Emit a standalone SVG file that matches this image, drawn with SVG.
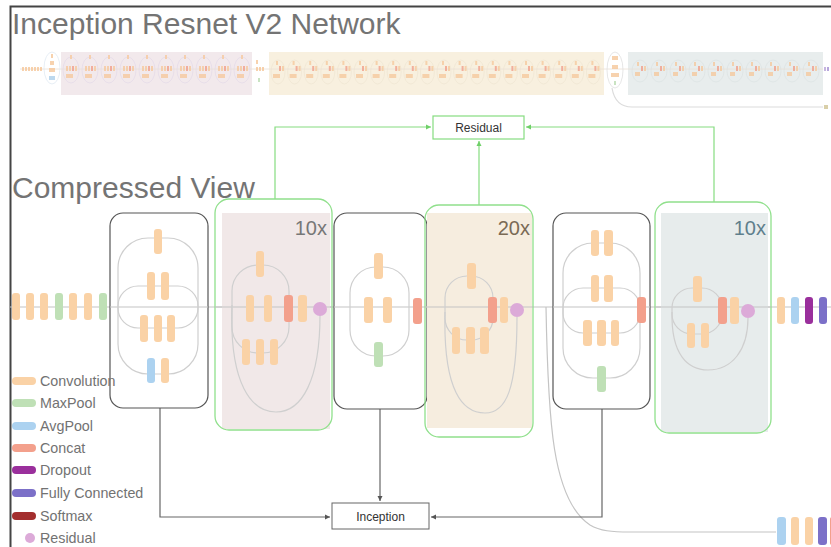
<svg xmlns="http://www.w3.org/2000/svg" width="831" height="547" viewBox="0 0 831 547">
<style>
.t{font-family:"Liberation Sans",Arial,sans-serif;}
.title{font-size:30px;fill:#747474;}
.leg{font-size:14.3px;fill:#727272;}
.rep{font-size:20px;}
.cv{fill:#fad2a6;}
.mp{fill:#bfe0b6;}
.ap{fill:#acd2f0;}
.cc{fill:#f3a08c;}
.dp{fill:#9a2f9c;}
.fc{fill:#7c70c8;}
.sm{fill:#a32e2e;}
.rs{fill:#dcaad8;}
.loop{fill:none;stroke:#cfcfcf;stroke-width:1.2;}
.blk{fill:#fff;stroke:#555;stroke-width:1.2;}
.grn{fill:none;stroke:#90e08c;stroke-width:1.3;}
.gl{fill:none;stroke:#86dc80;stroke-width:1.2;}
.bl{fill:none;stroke:#666;stroke-width:1.2;}
.main{stroke:#c4c4c4;stroke-width:1.2;fill:none;}
.lbox{fill:#fff;stroke:#666;stroke-width:1;}
.rbox{fill:#fff;stroke:#86dc80;stroke-width:1.2;}
.lbl{font-size:12px;fill:#333;}
</style>
<defs>
<marker id="ab" markerWidth="6" markerHeight="6" refX="5" refY="3" orient="auto" markerUnits="userSpaceOnUse"><path d="M0,0.5 L5,3 L0,5.5 Z" fill="#555"/></marker>
<marker id="ag" markerWidth="6" markerHeight="6" refX="5" refY="3" orient="auto" markerUnits="userSpaceOnUse"><path d="M0,0.5 L5,3 L0,5.5 Z" fill="#6fd068"/></marker>
<g id="uA" opacity="0.75">
<ellipse cx="9" cy="70" rx="8" ry="13" fill="none" stroke="#e0d6e8" stroke-width="0.7"/>
<rect x="8" y="55" width="2" height="4" fill="#f6c79a"/>
<rect x="4" y="66" width="2" height="5" fill="#f6c79a"/>
<rect x="7" y="66" width="2" height="5" fill="#f6c79a"/>
<rect x="10" y="66" width="2" height="5" fill="#f19a85"/>
<rect x="13" y="66" width="2" height="5" fill="#f6c79a"/>
<rect x="4" y="74" width="7" height="4" fill="#f6c79a"/>
</g>
<g id="uB" opacity="0.75">
<ellipse cx="8" cy="72" rx="7" ry="12" fill="none" stroke="#ece2cf" stroke-width="0.7"/>
<rect x="6" y="61" width="2" height="4" fill="#f6c79a"/>
<rect x="9" y="66" width="2" height="5" fill="#f19a85"/>
<rect x="12" y="66" width="2" height="5" fill="#f6c79a"/>
<rect x="3" y="74" width="7" height="4" fill="#f6c79a"/>
</g>
<g id="uC" opacity="0.75">
<ellipse cx="9" cy="71" rx="8" ry="11" fill="none" stroke="#d9dfe0" stroke-width="0.7"/>
<rect x="6" y="62" width="2" height="4" fill="#f6c79a"/>
<rect x="4" y="72" width="5" height="4" fill="#f6c79a"/>
<rect x="10" y="66" width="2" height="5" fill="#f19a85"/>
<rect x="13" y="66" width="2" height="5" fill="#f6c79a"/>
</g>
</defs>

<rect width="831" height="547" fill="#fff"/>
<path d="M10.5,547 V6.5 H831" fill="none" stroke="#444" stroke-width="2"/>

<text class="t title" x="12" y="34">Inception Resnet V2 Network</text>

<g id="overview">
<rect x="61" y="52" width="191" height="43" fill="#f2e9ec"/>
<rect x="269" y="52" width="335" height="43" fill="#f8f0df"/>
<rect x="628" y="52" width="195" height="43" fill="#e8eded"/>
<line x1="20" y1="69" x2="823" y2="69" stroke="#eadfd5" stroke-width="0.8"/>
<g fill="#f6c79a" opacity="0.8">
<rect x="22" y="67" width="2" height="4"/><rect x="25" y="67" width="2" height="4"/><rect x="28" y="67" width="2" height="4"/><rect x="31" y="67" width="2" height="4"/><rect x="34" y="67" width="2" height="4"/><rect x="37" y="67" width="2" height="4"/><rect x="40" y="67" width="2" height="4"/>
<rect x="51" y="54" width="2" height="4"/><rect x="50" y="61" width="4" height="4"/><rect x="49" y="68" width="6" height="4"/>
<rect x="256" y="60" width="2" height="4"/><rect x="256" y="67" width="2" height="4"/><rect x="259" y="67" width="2" height="4"/><rect x="262" y="67" width="2" height="4"/>
<rect x="612" y="56" width="6" height="4"/><rect x="612" y="65" width="6" height="4"/><rect x="611" y="73" width="8" height="4"/>
</g>
<rect x="49" y="76" width="6" height="4" fill="#bcd8ee"/>
<rect x="258" y="78" width="2" height="4" fill="#c9e3c2"/>
<rect x="614" y="81" width="2" height="4" fill="#c9e3c2"/>
<ellipse cx="52" cy="68" rx="8" ry="16" fill="none" stroke="#dde6f0" stroke-width="0.7"/>
<ellipse cx="615" cy="70" rx="8" ry="18" fill="none" stroke="#e0e0e0" stroke-width="0.8"/>
<use href="#uA" x="62"/><use href="#uA" x="81"/><use href="#uA" x="100"/><use href="#uA" x="119"/><use href="#uA" x="138"/><use href="#uA" x="157"/><use href="#uA" x="176"/><use href="#uA" x="195"/><use href="#uA" x="214"/><use href="#uA" x="233"/>
<use href="#uB" x="270"/><use href="#uB" x="286.6"/><use href="#uB" x="303.2"/><use href="#uB" x="319.8"/><use href="#uB" x="336.4"/><use href="#uB" x="353"/><use href="#uB" x="369.6"/><use href="#uB" x="386.2"/><use href="#uB" x="402.8"/><use href="#uB" x="419.4"/><use href="#uB" x="436"/><use href="#uB" x="452.6"/><use href="#uB" x="469.2"/><use href="#uB" x="485.8"/><use href="#uB" x="502.4"/><use href="#uB" x="519"/><use href="#uB" x="535.6"/><use href="#uB" x="552.2"/><use href="#uB" x="568.8"/><use href="#uB" x="585.4"/>
<use href="#uC" x="631"/><use href="#uC" x="650"/><use href="#uC" x="669"/><use href="#uC" x="688"/><use href="#uC" x="707"/><use href="#uC" x="726"/><use href="#uC" x="745"/><use href="#uC" x="764"/><use href="#uC" x="783"/><use href="#uC" x="802"/>
<rect x="824" y="67" width="2" height="4" fill="#c6b6e0"/><rect x="827" y="67" width="2" height="4" fill="#b7a6dc"/>
<path d="M612,88 C614,100 620,107 632,107 H823" fill="none" stroke="#dcdcdc" stroke-width="1.2"/>
<rect x="824" y="105" width="4" height="4" fill="#d9cfa8"/>
</g>

<text class="t title" x="12" y="198">Compressed View</text>

<g id="connectors">
<line class="main" x1="10" y1="307" x2="831" y2="307"/>
<path class="main" d="M546,307 C548,420 552,500 590,525 C600,531 612,532 630,532 H776" stroke="#dadada"/>
<path class="gl" d="M275,199 V127 H431" marker-end="url(#ag)"/>
<path class="gl" d="M714,202 V127 H526" marker-end="url(#ag)"/>
<path class="gl" d="M479,205 V141" marker-end="url(#ag)"/>
<path class="bl" d="M160,408 V517 H330" marker-end="url(#ab)"/>
<path class="bl" d="M380,409 V501" marker-end="url(#ab)"/>
<path class="bl" d="M602,409 V517 H431" marker-end="url(#ab)"/>
</g>

<g id="residual">
<rect class="rbox" x="433" y="116" width="91" height="23"/>
<text class="t lbl" x="478.5" y="131.5" text-anchor="middle">Residual</text>
</g>
<g id="inception">
<rect class="lbox" x="332" y="503" width="97" height="26"/>
<text class="t lbl" x="380.5" y="520.5" text-anchor="middle">Inception</text>
</g>

<g id="stem">
<rect class="cv" x="12" y="293" width="8" height="27" rx="3"/>
<rect class="cv" x="26" y="293" width="8" height="27" rx="3"/>
<rect class="cv" x="40" y="293" width="8" height="27" rx="3"/>
<rect class="mp" x="55" y="293" width="8" height="27" rx="3"/>
<rect class="cv" x="69" y="293" width="8" height="27" rx="3"/>
<rect class="cv" x="84" y="293" width="8" height="27" rx="3"/>
<rect class="mp" x="99" y="293" width="8" height="27" rx="3"/>
</g>

<g id="block-a">
<rect class="blk" x="110" y="213" width="98" height="195" rx="13"/>
<line class="main" x1="110" y1="307" x2="208" y2="307"/>
<rect class="loop" x="118" y="238" width="80" height="136" rx="30"/>
<rect class="loop" x="118" y="286" width="80" height="42" rx="20"/>
<rect class="cv" x="154" y="229" width="8" height="25" rx="3"/>
<rect class="cv" x="147" y="272" width="8" height="28" rx="3"/>
<rect class="cv" x="161" y="272" width="8" height="28" rx="3"/>
<rect class="cv" x="140" y="315" width="8" height="27" rx="3"/>
<rect class="cv" x="154" y="315" width="8" height="27" rx="3"/>
<rect class="cv" x="167" y="315" width="8" height="27" rx="3"/>
<rect class="ap" x="147" y="358" width="8" height="25" rx="3"/>
<rect class="cv" x="161" y="358" width="8" height="25" rx="3"/>
</g>

<g id="block-b">
<rect x="222" y="213" width="108" height="216" fill="#f1e8e8"/>
<rect class="grn" x="215" y="199" width="117" height="231" rx="14"/>
<line class="main" x1="215" y1="307" x2="332" y2="307"/>
<text class="t rep" x="327" y="235" text-anchor="end" fill="#777">10x</text>
<rect class="loop" x="232" y="265" width="57" height="88" rx="26"/>
<path class="loop" d="M232,305 C229,385 252,412 276,412 C302,412 320,380 320,315"/>
<rect class="cv" x="256" y="251" width="8" height="26" rx="3"/>
<rect class="cv" x="246" y="295" width="8" height="27" rx="3"/>
<rect class="cv" x="264" y="295" width="8" height="27" rx="3"/>
<rect class="cc" x="284" y="295" width="9" height="27" rx="3"/>
<rect class="cv" x="298" y="295" width="9" height="27" rx="3"/>
<circle class="rs" cx="320" cy="309" r="7"/>
<rect class="cv" x="242" y="339" width="8" height="26" rx="3"/>
<rect class="cv" x="256" y="339" width="8" height="26" rx="3"/>
<rect class="cv" x="270" y="339" width="8" height="26" rx="3"/>
</g>

<g id="block-c">
<rect class="blk" x="334" y="213" width="93" height="196" rx="13"/>
<line class="main" x1="334" y1="307" x2="427" y2="307"/>
<rect class="loop" x="350" y="267" width="59" height="89" rx="26"/>
<rect class="cv" x="374" y="253" width="9" height="26" rx="3"/>
<rect class="cv" x="364" y="297" width="9" height="26" rx="3"/>
<rect class="cv" x="383" y="297" width="9" height="26" rx="3"/>
<rect class="mp" x="374" y="342" width="9" height="25" rx="3"/>
<rect class="cc" x="413" y="298" width="9" height="26" rx="3"/>
</g>

<g id="block-d">
<rect x="427" y="213" width="105" height="215" fill="#f6eddf"/>
<rect class="grn" x="425" y="205" width="108" height="232" rx="14"/>
<line class="main" x1="425" y1="307" x2="533" y2="307"/>
<text class="t rep" x="530" y="235" text-anchor="end" fill="#7a6a55">20x</text>
<rect class="loop" x="445" y="276" width="48" height="64" rx="22"/>
<path class="loop" d="M445,312 C443,392 463,413 485,413 C506,413 517,390 517,317"/>
<rect class="cv" x="467" y="263" width="9" height="26" rx="3"/>
<rect class="cc" x="488" y="297" width="9" height="26" rx="3"/>
<rect class="cv" x="500" y="297" width="8" height="26" rx="3"/>
<circle class="rs" cx="517" cy="310" r="7"/>
<rect class="cv" x="452" y="327" width="8" height="27" rx="3"/>
<rect class="cv" x="466" y="327" width="9" height="27" rx="3"/>
<rect class="cv" x="480" y="327" width="9" height="27" rx="3"/>
</g>

<g id="block-e">
<rect class="blk" x="553" y="213" width="97" height="196" rx="13"/>
<line class="main" x1="553" y1="307" x2="650" y2="307"/>
<rect class="loop" x="563" y="243" width="77" height="135" rx="30"/>
<rect class="loop" x="563" y="288" width="77" height="45" rx="20"/>
<rect class="cv" x="591" y="230" width="8" height="26" rx="3"/>
<rect class="cv" x="604" y="230" width="9" height="26" rx="3"/>
<rect class="cv" x="591" y="275" width="8" height="27" rx="3"/>
<rect class="cv" x="604" y="275" width="9" height="27" rx="3"/>
<rect class="cv" x="583" y="320" width="9" height="26" rx="3"/>
<rect class="cv" x="597" y="320" width="9" height="26" rx="3"/>
<rect class="cv" x="611" y="320" width="8" height="26" rx="3"/>
<rect class="mp" x="597" y="366" width="9" height="26" rx="3"/>
<rect class="cc" x="637" y="297" width="9" height="26" rx="3"/>
</g>

<g id="block-f">
<rect x="661" y="213" width="107" height="219" fill="#e7ecec"/>
<rect class="grn" x="655" y="202" width="116" height="231" rx="14"/>
<line class="main" x1="655" y1="307" x2="771" y2="307"/>
<text class="t rep" x="766" y="235" text-anchor="end" fill="#5f7f8c">10x</text>
<rect class="loop" x="672" y="288" width="50" height="46" rx="20"/>
<path class="loop" d="M672,312 C671,355 688,370 708,370 C732,370 748,350 748,318"/>
<rect class="cv" x="693" y="276" width="9" height="26" rx="3"/>
<rect class="cc" x="718" y="297" width="9" height="27" rx="3"/>
<rect class="cv" x="730" y="297" width="9" height="27" rx="3"/>
<circle class="rs" cx="748" cy="311" r="7"/>
<rect class="cv" x="687" y="323" width="8" height="25" rx="3"/>
<rect class="cv" x="701" y="323" width="8" height="25" rx="3"/>
</g>

<g id="head">
<rect class="cv" x="777" y="297" width="8" height="27" rx="3"/>
<rect class="ap" x="791" y="297" width="8" height="27" rx="3"/>
<rect class="dp" x="805" y="297" width="8" height="27" rx="3"/>
<rect class="fc" x="819" y="297" width="8" height="27" rx="3"/>
</g>

<g id="aux-head">
<rect class="ap" x="777" y="517" width="9" height="28" rx="3"/>
<rect class="cv" x="791" y="517" width="8" height="28" rx="3"/>
<rect class="cv" x="805" y="517" width="8" height="28" rx="3"/>
<rect class="fc" x="818" y="517" width="9" height="28" rx="3"/>
<rect x="830" y="517" width="4" height="28" rx="2" fill="#f3a08c"/>
</g>

<g id="legend">
<rect class="cv" x="12" y="377" width="24" height="8" rx="4"/>
<text class="t leg" x="40" y="386">Convolution</text>
<rect class="mp" x="12" y="399" width="24" height="8" rx="4"/>
<text class="t leg" x="40" y="408">MaxPool</text>
<rect class="ap" x="12" y="422" width="24" height="8" rx="4"/>
<text class="t leg" x="40" y="431">AvgPool</text>
<rect class="cc" x="12" y="444" width="24" height="8" rx="4"/>
<text class="t leg" x="40" y="453">Concat</text>
<rect class="dp" x="12" y="466" width="24" height="8" rx="4"/>
<text class="t leg" x="40" y="475">Dropout</text>
<rect class="fc" x="12" y="489" width="24" height="8" rx="4"/>
<text class="t leg" x="40" y="498">Fully Connected</text>
<rect class="sm" x="12" y="512" width="24" height="8" rx="4"/>
<text class="t leg" x="40" y="521">Softmax</text>
<circle class="rs" cx="30" cy="538" r="5"/>
<text class="t leg" x="40" y="543">Residual</text>
</g>
</svg>
